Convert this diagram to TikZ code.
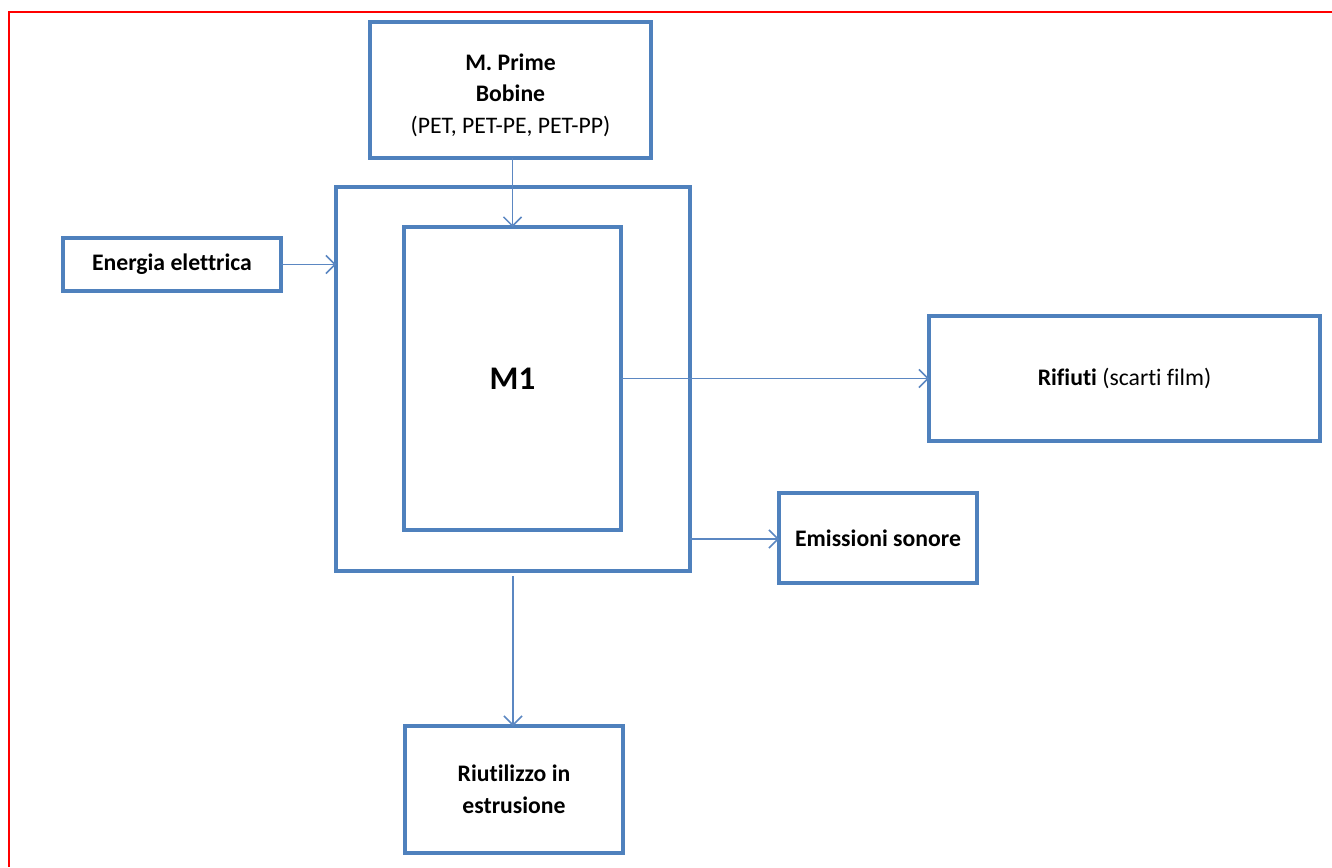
\documentclass[tikz,border=0pt]{standalone}
\usepackage{fontspec}
\setmainfont[Ligatures={NoCommon}]{Carlito}
\usetikzlibrary{arrows.meta}
\definecolor{boxblue}{HTML}{4F81BD}
\definecolor{arrowblue}{HTML}{5B87C2}
\definecolor{framered}{HTML}{FF0000}
\begin{document}
\begin{tikzpicture}[x=1pt,y=-1pt,
  blockbox/.style={draw=boxblue,line width=4pt,rectangle,inner sep=0pt,outer sep=0pt,
    align=center,font=\fontsize{23.7}{31.5}\selectfont\bfseries},
  flow/.style={draw=arrowblue,line width=1.5pt,-{Straight Barb[length=9pt,width=18pt,line width=1.5pt]}}]
  \useasboundingbox (0,0) rectangle (1332,867);
  % page frame
  \draw[framered,line width=1.5pt] (1332,12) -- (9,12) -- (9,867);

  % blocks
  \node[blockbox,minimum width=281pt,minimum height=136pt] (mp) at (510.5,90)
    {\rule{0pt}{27pt}M. Prime\\Bobine\\{\mdseries (PET, PET-PE, PET-PP)}};
  \node[blockbox,minimum width=354pt,minimum height=384pt] (outer) at (513,379) {};
  \node[blockbox,minimum width=217pt,minimum height=303pt] (m1) at (512.5,378.5)
    {\fontsize{33}{40}\selectfont\raisebox{-2pt}{M1}};
  \node[blockbox,minimum width=218pt,minimum height=53pt] (en) at (172,264.5) {Energia elettrica};
  \node[blockbox,minimum width=391pt,minimum height=125pt] (rif) at (1124.5,378.5)
    {Rifiuti {\mdseries(scarti film)}};
  \node[blockbox,minimum width=198pt,minimum height=90pt] (em) at (878,538) {Emissioni sonore};
  \node[blockbox,minimum width=218pt,minimum height=127pt] (riu) at (514,789.5)
    {Riutilizzo in\\estrusione};

  % flows
  \draw[flow] (m1.north |- mp.south) -- (m1.north);
  \draw[flow] (en.east) -- (en.east -| outer.west);
  \draw[flow] (m1.east) -- (m1.east -| rif.west);
  \draw[flow] ([yshift=-1pt]outer.east |- em.west) -- ([yshift=-1pt]em.west);
  \draw[flow,shorten <=5pt] (outer.south) -- (outer.south |- riu.north);
\end{tikzpicture}
\end{document}
